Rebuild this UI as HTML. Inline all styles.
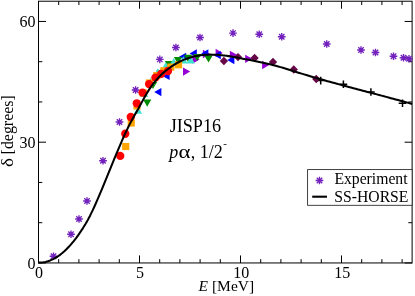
<!DOCTYPE html>
<html lang="en">
<head>
<meta charset="utf-8">
<title>Phase shifts: JISP16 p-alpha 1/2-</title>
<style>
html,body{margin:0;padding:0;background:#fff;}
body{width:415px;height:296px;overflow:hidden;font-family:"Liberation Serif",serif;}
svg text{fill:#000;}
</style>
</head>
<body>
<svg width="415" height="296" viewBox="0 0 415 296" style="display:block;will-change:transform">
<rect x="38.5" y="1.22" width="373.60" height="261.73" fill="none" stroke="#000" stroke-width="1.0"/>
<path d="M38.50,262.95v-7.5M38.50,1.22v7.5M58.70,262.95v-3.8M58.70,1.22v3.8M78.90,262.95v-3.8M78.90,1.22v3.8M99.10,262.95v-3.8M99.10,1.22v3.8M119.30,262.95v-3.8M119.30,1.22v3.8M139.50,262.95v-7.5M139.50,1.22v7.5M159.70,262.95v-3.8M159.70,1.22v3.8M179.90,262.95v-3.8M179.90,1.22v3.8M200.10,262.95v-3.8M200.10,1.22v3.8M220.30,262.95v-3.8M220.30,1.22v3.8M240.50,262.95v-7.5M240.50,1.22v7.5M260.70,262.95v-3.8M260.70,1.22v3.8M280.90,262.95v-3.8M280.90,1.22v3.8M301.10,262.95v-3.8M301.10,1.22v3.8M321.30,262.95v-3.8M321.30,1.22v3.8M341.50,262.95v-7.5M341.50,1.22v7.5M361.70,262.95v-3.8M361.70,1.22v3.8M381.90,262.95v-3.8M381.90,1.22v3.8M402.10,262.95v-3.8M402.10,1.22v3.8M38.5,262.95h7.5M412.1,262.95h-7.5M38.5,222.70h3.8M412.1,222.70h-3.8M38.5,182.45h3.8M412.1,182.45h-3.8M38.5,142.20h7.5M412.1,142.20h-7.5M38.5,101.95h3.8M412.1,101.95h-3.8M38.5,61.70h3.8M412.1,61.70h-3.8M38.5,21.45h7.5M412.1,21.45h-7.5" stroke="#000" stroke-width="1.0" fill="none"/>
<path d="M49.65,256.25H57.35M53.50,252.40V260.10M50.78,253.53L56.22,258.97M50.78,258.97L56.22,253.53" stroke="rgb(114,33,188)" stroke-width="1.35" fill="none"/>
<path d="M67.15,234.25H74.85M71.00,230.40V238.10M68.28,231.53L73.72,236.97M68.28,236.97L73.72,231.53" stroke="rgb(114,33,188)" stroke-width="1.35" fill="none"/>
<path d="M75.15,219.00H82.85M79.00,215.15V222.85M76.28,216.28L81.72,221.72M76.28,221.72L81.72,216.28" stroke="rgb(114,33,188)" stroke-width="1.35" fill="none"/>
<path d="M83.15,201.00H90.85M87.00,197.15V204.85M84.28,198.28L89.72,203.72M84.28,203.72L89.72,198.28" stroke="rgb(114,33,188)" stroke-width="1.35" fill="none"/>
<path d="M99.15,160.75H106.85M103.00,156.90V164.60M100.28,158.03L105.72,163.47M100.28,163.47L105.72,158.03" stroke="rgb(114,33,188)" stroke-width="1.35" fill="none"/>
<path d="M115.65,122.00H123.35M119.50,118.15V125.85M116.78,119.28L122.22,124.72M116.78,124.72L122.22,119.28" stroke="rgb(114,33,188)" stroke-width="1.35" fill="none"/>
<path d="M131.75,90.00H139.45M135.60,86.15V93.85M132.88,87.28L138.32,92.72M132.88,92.72L138.32,87.28" stroke="rgb(114,33,188)" stroke-width="1.35" fill="none"/>
<path d="M155.95,59.40H163.65M159.80,55.55V63.25M157.08,56.68L162.52,62.12M157.08,62.12L162.52,56.68" stroke="rgb(114,33,188)" stroke-width="1.35" fill="none"/>
<path d="M172.05,47.50H179.75M175.90,43.65V51.35M173.18,44.78L178.62,50.22M173.18,50.22L178.62,44.78" stroke="rgb(114,33,188)" stroke-width="1.35" fill="none"/>
<path d="M196.15,37.50H203.85M200.00,33.65V41.35M197.28,34.78L202.72,40.22M197.28,40.22L202.72,34.78" stroke="rgb(114,33,188)" stroke-width="1.35" fill="none"/>
<path d="M229.15,33.10H236.85M233.00,29.25V36.95M230.28,30.38L235.72,35.82M230.28,35.82L235.72,30.38" stroke="rgb(114,33,188)" stroke-width="1.35" fill="none"/>
<path d="M255.40,34.25H263.10M259.25,30.40V38.10M256.53,31.53L261.97,36.97M256.53,36.97L261.97,31.53" stroke="rgb(114,33,188)" stroke-width="1.35" fill="none"/>
<path d="M277.90,36.75H285.60M281.75,32.90V40.60M279.03,34.03L284.47,39.47M279.03,39.47L284.47,34.03" stroke="rgb(114,33,188)" stroke-width="1.35" fill="none"/>
<path d="M322.90,44.00H330.60M326.75,40.15V47.85M324.03,41.28L329.47,46.72M324.03,46.72L329.47,41.28" stroke="rgb(114,33,188)" stroke-width="1.35" fill="none"/>
<path d="M357.15,50.00H364.85M361.00,46.15V53.85M358.28,47.28L363.72,52.72M358.28,52.72L363.72,47.28" stroke="rgb(114,33,188)" stroke-width="1.35" fill="none"/>
<path d="M371.65,52.50H379.35M375.50,48.65V56.35M372.78,49.78L378.22,55.22M372.78,55.22L378.22,49.78" stroke="rgb(114,33,188)" stroke-width="1.35" fill="none"/>
<path d="M389.65,56.25H397.35M393.50,52.40V60.10M390.78,53.53L396.22,58.97M390.78,58.97L396.22,53.53" stroke="rgb(114,33,188)" stroke-width="1.35" fill="none"/>
<path d="M399.65,57.75H407.35M403.50,53.90V61.60M400.78,55.03L406.22,60.47M400.78,60.47L406.22,55.03" stroke="rgb(114,33,188)" stroke-width="1.35" fill="none"/>
<path d="M405.15,58.75H412.85M409.00,54.90V62.60M406.28,56.03L411.72,61.47M406.28,61.47L411.72,56.03" stroke="rgb(114,33,188)" stroke-width="1.35" fill="none"/>
<path d="M316.90,80.60H324.50M320.70,76.80V84.40" stroke="#000" stroke-width="1.5" fill="none"/>
<path d="M339.60,84.20H347.20M343.40,80.40V88.00" stroke="#000" stroke-width="1.5" fill="none"/>
<path d="M367.10,92.00H374.70M370.90,88.20V95.80" stroke="#000" stroke-width="1.5" fill="none"/>
<path d="M398.70,103.30H406.30M402.50,99.50V107.10" stroke="#000" stroke-width="1.5" fill="none"/>
<polygon points="190.19,71.60 183.00,67.45 183.00,75.75" fill="rgb(148,0,211)"/>
<polygon points="199.59,59.50 192.40,55.35 192.40,63.65" fill="rgb(148,0,211)"/>
<polygon points="210.09,54.00 202.90,49.85 202.90,58.15" fill="rgb(148,0,211)"/>
<polygon points="222.79,53.00 215.60,48.85 215.60,57.15" fill="rgb(148,0,211)"/>
<polygon points="236.99,54.80 229.80,50.65 229.80,58.95" fill="rgb(148,0,211)"/>
<polygon points="252.39,58.80 245.20,54.65 245.20,62.95" fill="rgb(148,0,211)"/>
<polygon points="269.29,65.00 262.10,60.85 262.10,69.15" fill="rgb(148,0,211)"/>
<polygon points="154.21,92.10 161.40,87.95 161.40,96.25" fill="rgb(0,0,255)"/>
<polygon points="162.41,75.90 169.60,71.75 169.60,80.05" fill="rgb(0,0,255)"/>
<polygon points="171.71,63.50 178.90,59.35 178.90,67.65" fill="rgb(0,0,255)"/>
<polygon points="179.01,56.80 186.20,52.65 186.20,60.95" fill="rgb(0,0,255)"/>
<polygon points="189.61,53.50 196.80,49.35 196.80,57.65" fill="rgb(0,0,255)"/>
<polygon points="201.21,53.40 208.40,49.25 208.40,57.55" fill="rgb(0,0,255)"/>
<polygon points="213.61,55.10 220.80,50.95 220.80,59.25" fill="rgb(0,0,255)"/>
<polygon points="227.21,60.10 234.40,55.95 234.40,64.25" fill="rgb(0,0,255)"/>
<polygon points="223.90,56.85 228.05,61.00 223.90,65.15 219.75,61.00" fill="rgb(103,7,72)"/>
<polygon points="238.00,52.95 242.15,57.10 238.00,61.25 233.85,57.10" fill="rgb(103,7,72)"/>
<polygon points="254.60,53.85 258.75,58.00 254.60,62.15 250.45,58.00" fill="rgb(103,7,72)"/>
<polygon points="273.00,57.85 277.15,62.00 273.00,66.15 268.85,62.00" fill="rgb(103,7,72)"/>
<polygon points="293.75,65.35 297.90,69.50 293.75,73.65 289.60,69.50" fill="rgb(103,7,72)"/>
<polygon points="316.25,74.85 320.40,79.00 316.25,83.15 312.10,79.00" fill="rgb(103,7,72)"/>
<polygon points="147.20,106.79 143.05,99.60 151.35,99.60" fill="rgb(0,139,0)"/>
<polygon points="153.00,89.09 148.85,81.90 157.15,81.90" fill="rgb(0,139,0)"/>
<polygon points="160.50,77.29 156.35,70.10 164.65,70.10" fill="rgb(0,139,0)"/>
<polygon points="169.00,68.29 164.85,61.10 173.15,61.10" fill="rgb(0,139,0)"/>
<polygon points="178.00,64.09 173.85,56.90 182.15,56.90" fill="rgb(0,139,0)"/>
<polygon points="188.00,61.99 183.85,54.80 192.15,54.80" fill="rgb(0,139,0)"/>
<polygon points="197.20,61.09 193.05,53.90 201.35,53.90" fill="rgb(0,139,0)"/>
<polygon points="208.50,62.59 204.35,55.40 212.65,55.40" fill="rgb(0,139,0)"/>
<polygon points="138.00,106.46 133.85,113.65 142.15,113.65" fill="rgb(64,224,208)"/>
<polygon points="144.20,89.81 140.05,97.00 148.35,97.00" fill="rgb(64,224,208)"/>
<polygon points="150.50,77.71 146.35,84.90 154.65,84.90" fill="rgb(64,224,208)"/>
<polygon points="157.90,68.21 153.75,75.40 162.05,75.40" fill="rgb(64,224,208)"/>
<polygon points="165.70,62.31 161.55,69.50 169.85,69.50" fill="rgb(64,224,208)"/>
<polygon points="173.70,58.01 169.55,65.20 177.85,65.20" fill="rgb(64,224,208)"/>
<polygon points="183.50,56.31 179.35,63.50 187.65,63.50" fill="rgb(64,224,208)"/>
<polygon points="190.70,56.41 186.55,63.60 194.85,63.60" fill="rgb(64,224,208)"/>
<rect x="122.18" y="142.93" width="7.14" height="7.14" fill="rgb(255,165,0)"/>
<rect x="127.68" y="119.43" width="7.14" height="7.14" fill="rgb(255,165,0)"/>
<rect x="133.43" y="102.43" width="7.14" height="7.14" fill="rgb(255,165,0)"/>
<rect x="139.63" y="89.33" width="7.14" height="7.14" fill="rgb(255,165,0)"/>
<rect x="145.83" y="79.43" width="7.14" height="7.14" fill="rgb(255,165,0)"/>
<rect x="153.23" y="72.03" width="7.14" height="7.14" fill="rgb(255,165,0)"/>
<rect x="160.28" y="67.23" width="7.14" height="7.14" fill="rgb(255,165,0)"/>
<rect x="167.33" y="63.53" width="7.14" height="7.14" fill="rgb(255,165,0)"/>
<rect x="175.03" y="61.23" width="7.14" height="7.14" fill="rgb(255,165,0)"/>
<circle cx="120.25" cy="155.90" r="4.15" fill="rgb(255,0,0)"/>
<circle cx="125.25" cy="133.75" r="4.15" fill="rgb(255,0,0)"/>
<circle cx="130.75" cy="117.00" r="4.15" fill="rgb(255,0,0)"/>
<circle cx="136.80" cy="103.30" r="4.15" fill="rgb(255,0,0)"/>
<circle cx="142.50" cy="92.60" r="4.15" fill="rgb(255,0,0)"/>
<circle cx="149.10" cy="84.10" r="4.15" fill="rgb(255,0,0)"/>
<circle cx="155.40" cy="77.60" r="4.15" fill="rgb(255,0,0)"/>
<circle cx="161.30" cy="73.80" r="4.15" fill="rgb(255,0,0)"/>
<circle cx="168.00" cy="71.00" r="4.15" fill="rgb(255,0,0)"/>
<path d="M38.50,262.64 L40.85,262.58 L43.20,262.33 L45.55,261.89 L47.90,261.26 L50.25,260.43 L52.60,259.40 L54.95,258.18 L57.30,256.75 L59.65,255.13 L62.00,253.30 L64.35,251.27 L66.70,249.03 L69.05,246.58 L71.40,243.93 L73.75,241.09 L76.09,238.05 L78.44,234.82 L80.79,231.41 L83.14,227.82 L85.49,224.01 L87.84,219.89 L90.19,215.41 L92.54,210.59 L94.89,205.49 L97.24,200.16 L99.59,194.65 L101.94,189.02 L104.29,183.31 L106.64,177.56 L108.99,171.79 L111.34,166.03 L113.69,160.30 L116.04,154.62 L118.39,149.03 L120.74,143.54 L123.09,138.19 L125.44,133.02 L127.79,128.07 L130.14,123.39 L132.49,119.00 L134.84,114.80 L137.19,110.66 L139.54,106.45 L141.89,102.12 L144.24,97.79 L146.59,93.66 L148.94,89.86 L151.28,86.38 L153.63,83.21 L155.98,80.33 L158.33,77.69 L160.68,75.29 L163.03,73.10 L165.38,71.07 L167.73,69.20 L170.08,67.46 L172.43,65.85 L174.78,64.36 L177.13,63.01 L179.48,61.76 L181.83,60.64 L184.18,59.62 L186.53,58.72 L188.88,57.91 L191.23,57.20 L193.58,56.59 L195.93,56.07 L198.28,55.64 L200.63,55.29 L202.98,55.02 L205.33,54.82 L207.68,54.70 L210.03,54.64 L212.38,54.65 L214.73,54.71 L217.08,54.83 L219.43,55.00 L221.78,55.22 L224.13,55.49 L226.47,55.79 L228.82,56.12 L231.17,56.49 L233.52,56.89 L235.87,57.31 L238.22,57.74 L240.57,58.20 L242.92,58.66 L245.27,59.14 L247.62,59.61 L249.97,60.09 L252.32,60.56 L254.67,61.03 L257.02,61.51 L259.37,61.99 L261.72,62.49 L264.07,62.99 L266.42,63.51 L268.77,64.05 L271.12,64.61 L273.47,65.20 L275.82,65.81 L278.17,66.45 L280.52,67.12 L282.87,67.81 L285.22,68.51 L287.57,69.23 L289.92,69.96 L292.27,70.70 L294.62,71.44 L296.97,72.18 L299.32,72.91 L301.66,73.64 L304.01,74.36 L306.36,75.07 L308.71,75.77 L311.06,76.46 L313.41,77.15 L315.76,77.83 L318.11,78.50 L320.46,79.17 L322.81,79.83 L325.16,80.49 L327.51,81.15 L329.86,81.80 L332.21,82.44 L334.56,83.09 L336.91,83.73 L339.26,84.37 L341.61,85.00 L343.96,85.64 L346.31,86.27 L348.66,86.90 L351.01,87.53 L353.36,88.15 L355.71,88.78 L358.06,89.40 L360.41,90.02 L362.76,90.65 L365.11,91.27 L367.46,91.89 L369.81,92.51 L372.16,93.13 L374.51,93.75 L376.85,94.38 L379.20,95.00 L381.55,95.63 L383.90,96.25 L386.25,96.88 L388.60,97.51 L390.95,98.14 L393.30,98.77 L395.65,99.41 L398.00,100.05 L400.35,100.69 L402.70,101.33 L405.05,101.98 L407.40,102.63 L409.75,103.29 L412.10,103.95" stroke="#000" stroke-width="2.05" fill="none" stroke-linejoin="round" stroke-linecap="butt"/>
<rect x="307.6" y="169.6" width="104.50" height="35.70" fill="#fff" stroke="#222" stroke-width="0.85"/>
<path d="M315.65,180.50H323.35M319.50,176.65V184.35M316.78,177.78L322.22,183.22M316.78,183.22L322.22,177.78" stroke="rgb(114,33,188)" stroke-width="1.35" fill="none"/>
<path d="M312.2,196.7H327" stroke="#000" stroke-width="2.1"/>
<text x="334.4" y="183.9" font-family="Liberation Serif, serif" font-size="15.7">Experiment</text>
<text x="334.3" y="201.5" font-family="Liberation Serif, serif" font-size="15.7">SS-HORSE</text>
<text x="35.4" y="26.8" font-family="Liberation Serif, serif" font-size="16" text-anchor="end">60</text>
<text x="35.4" y="147.5" font-family="Liberation Serif, serif" font-size="16" text-anchor="end">30</text>
<text x="35.4" y="268.5" font-family="Liberation Serif, serif" font-size="16" text-anchor="end">0</text>
<text x="38.90" y="277.7" font-family="Liberation Serif, serif" font-size="16" text-anchor="middle">0</text>
<text x="139.90" y="277.7" font-family="Liberation Serif, serif" font-size="16" text-anchor="middle">5</text>
<text x="241.30" y="277.7" font-family="Liberation Serif, serif" font-size="16" text-anchor="middle">10</text>
<text x="342.30" y="277.7" font-family="Liberation Serif, serif" font-size="16" text-anchor="middle">15</text>
<text x="198.6" y="291.2" font-family="Liberation Serif, serif" font-size="15.5"><tspan font-style="italic">E</tspan> [MeV]</text>
<text transform="translate(12.9,167.1) rotate(-90) scale(1.1,1)" font-family="Liberation Serif, serif" font-size="17.5">δ</text>
<text transform="translate(13.1,154.4) rotate(-90)" font-family="Liberation Serif, serif" font-size="15.9">[degrees]</text>
<text x="169.7" y="131.8" font-family="Liberation Serif, serif" font-size="18.1">JISP16</text>
<text x="169.3" y="157.8" font-family="Liberation Serif, serif" font-size="18" font-style="italic">p</text>
<text transform="translate(178.4,157.8) scale(1.27,1.04)" font-family="Liberation Serif, serif" font-size="18">α</text>
<text x="190.7" y="157.8" font-family="Liberation Serif, serif" font-size="18">, 1/2<tspan dy="-11.2" dx="0.6" font-size="11">-</tspan></text>
</svg>
</body>
</html>
